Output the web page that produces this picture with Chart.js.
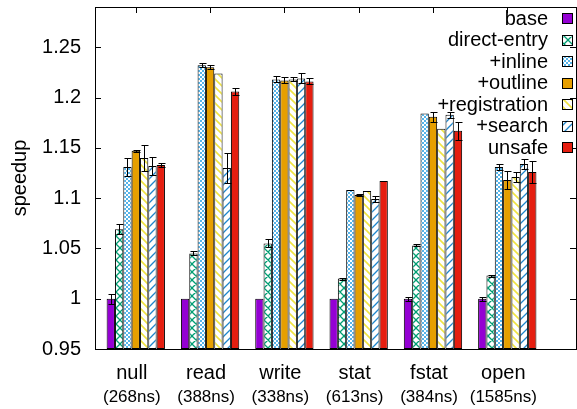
<!DOCTYPE html>
<html>
<head>
<meta charset="utf-8">
<script src="https://cdn.jsdelivr.net/npm/chart.js@4.4.1/dist/chart.umd.min.js"></script>
<style>
    html, body { margin: 0; padding: 0; background: #fff; }
    #wrap { width: 577px; height: 409px; }
</style>
</head>
<body>
<div id="wrap"><canvas id="speedup-chart"></canvas></div>
<script>
'use strict';

// groups on the x axis
const categories = ['null', 'read', 'write', 'stat', 'fstat', 'open'];
const baseTimes = ['(268ns)', '(388ns)', '(338ns)', '(613ns)', '(384ns)', '(1585ns)'];

const seriesNames = ['base', 'direct-entry', '+inline', '+outline', '+registration', '+search', 'unsafe'];

// speedup per group
const base = [1.000, 1.000, 1.000, 1.000, 1.000, 1.000];
const directEntry = [1.069, 1.045, 1.055, 1.020, 1.053, 1.023];
const inline = [1.131, 1.232, 1.218, 1.108, 1.184, 1.131];
const outline = [1.147, 1.230, 1.217, 1.103, 1.181, 1.118];
const registration = [1.140, 1.224, 1.218, 1.107, 1.169, 1.121];
const search = [1.132, 1.130, 1.219, 1.099, 1.183, 1.134];
const unsafe = [1.133, 1.206, 1.216, 1.117, 1.167, 1.126];

// error bar half widths
const baseErr = [0.005, 0.000, 0.000, 0.000, 0.002, 0.002];
const directEntryErr = [0.005, 0.002, 0.004, 0.001, 0.001, 0.001];
const inlineErr = [0.009, 0.002, 0.003, 0.000, 0.000, 0.003];
const outlineErr = [0.001, 0.002, 0.003, 0.001, 0.005, 0.009];
const registrationErr = [0.013, 0.000, 0.002, 0.000, 0.000, 0.005];
const searchErr = [0.009, 0.015, 0.005, 0.003, 0.003, 0.005];
const unsafeErr = [0.002, 0.003, 0.003, 0.000, 0.009, 0.011];

const yTicks = [0.95, 1.0, 1.05, 1.1, 1.15, 1.2, 1.25];


/** @description Small repeating tile used as a bar fill */
function makePattern(color, kind, size, width) {
    let c = document.createElement('canvas');
    c.width = size;
    c.height = size;
    let g = c.getContext('2d');
    g.fillStyle = '#fff';
    g.fillRect(0, 0, size, size);
    g.strokeStyle = color;
    g.lineWidth = width || 1;
    g.beginPath();
    if (kind === 'cross' || kind === 'back') {
        g.moveTo(0, 0);
        g.lineTo(size, size);
        g.moveTo(-1, size - 1);
        g.lineTo(1, size + 1);
        g.moveTo(size - 1, -1);
        g.lineTo(size + 1, 1);
    }
    if (kind === 'cross' || kind === 'fwd') {
        g.moveTo(0, size);
        g.lineTo(size, 0);
        g.moveTo(-1, 1);
        g.lineTo(1, -1);
        g.moveTo(size - 1, size + 1);
        g.lineTo(size + 1, size - 1);
    }
    g.stroke();
    if (kind === 'checker') {
        g.fillStyle = color;
        let h = size / 2;
        g.fillRect(0, 0, h, h);
        g.fillRect(h, h, h, h);
    }
    return g.createPattern(c, 'repeat');
}


const fills = [
    '#9400d3',
    makePattern('#009e73', 'cross', 8, 1.3),
    makePattern('#56b4e9', 'checker', 4),
    '#e69f00',
    makePattern('#f0e442', 'back', 8, 1.6),
    makePattern('#1f86cc', 'fwd', 8, 1.3),
    '#e51e10'
];

const values = [base, directEntry, inline, outline, registration, search, unsafe];
const errors = [baseErr, directEntryErr, inlineErr, outlineErr, registrationErr, searchErr, unsafeErr];


// error bars on top of every bar
const errorBarPlugin = {
    id: 'errorBars',
    afterDatasetsDraw(chart) {
        const ctx = chart.ctx;
        const y = chart.scales.y;
        ctx.save();
        ctx.strokeStyle = '#000';
        ctx.lineWidth = 1;
        chart.data.datasets.forEach((ds, i) => {
            const meta = chart.getDatasetMeta(i);
            meta.data.forEach((bar, j) => {
                const err = errors[i][j];
                if (!err)
                    return;
                const v = values[i][j];
                const top = Math.round(y.getPixelForValue(v + err)) + 0.5;
                const bot = Math.round(y.getPixelForValue(v - err)) + 0.5;
                const x = Math.round(bar.x) + 0.5;
                ctx.beginPath();
                ctx.moveTo(x, top);
                ctx.lineTo(x, bot);
                ctx.moveTo(x - 3, top);
                ctx.lineTo(x + 4, top);
                ctx.moveTo(x - 3, bot);
                ctx.lineTo(x + 4, bot);
                ctx.stroke();
            });
        });
        ctx.restore();
    }
};

// gnuplot style frame with inward ticks
const framePlugin = {
    id: 'frame',
    beforeDatasetsDraw(chart) {
        const ctx = chart.ctx;
        const a = chart.chartArea;
        ctx.save();
        ctx.strokeStyle = '#000';
        ctx.lineWidth = 1;
        ctx.beginPath();
        for (const v of yTicks) {
            const py = Math.round(chart.scales.y.getPixelForValue(v)) + 0.5;
            ctx.moveTo(a.left, py);
            ctx.lineTo(a.left + 6, py);
            ctx.moveTo(a.right, py);
            ctx.lineTo(a.right - 6, py);
        }
        categories.forEach((c, i) => {
            const px = Math.round(chart.scales.x.getPixelForValue(i)) + 0.5;
            ctx.moveTo(px, a.top);
            ctx.lineTo(px, a.top + 6);
            ctx.moveTo(px, a.bottom);
            ctx.lineTo(px, a.bottom - 6);
        });
        ctx.stroke();
        ctx.restore();
    },
    afterDraw(chart) {
        const ctx = chart.ctx;
        const a = chart.chartArea;
        ctx.save();
        ctx.strokeStyle = '#000';
        ctx.lineWidth = 1;
        ctx.strokeRect(Math.round(a.left) + 0.5, Math.round(a.top) + 0.5,
            Math.round(a.right - a.left), Math.round(a.bottom - a.top));
        ctx.restore();
    }
};

// key in the top right corner: text right aligned, sample box after it
const keyPlugin = {
    id: 'key',
    afterDatasetsDraw(chart) {
        const ctx = chart.ctx;
        const a = chart.chartArea;
        const boxRight = a.right - 4;
        const rowH = 21.5;
        ctx.save();
        ctx.font = '20px "Liberation Sans", Arial, sans-serif';
        ctx.textAlign = 'right';
        ctx.textBaseline = 'middle';
        chart.data.datasets.forEach((ds, i) => {
            const cy = a.top + 11 + i * rowH;
            ctx.fillStyle = '#000';
            ctx.fillText(ds.label, boxRight - 24, cy + 1);
            const bx = Math.round(boxRight - 10) + 0.5;
            const by = Math.round(cy - 5) + 0.5;
            ctx.fillStyle = ds.backgroundColor;
            ctx.fillRect(bx, by, 10, 10);
            ctx.strokeStyle = '#000';
            ctx.strokeRect(bx, by, 10, 10);
        });
        ctx.restore();
    }
};

// fixed axis sizes, no extra label padding around the plot
function fixSize(size) {
    return (s) => {
        if (s.isHorizontal())
            s.height = size;
        else
            s.width = size;
        s.paddingLeft = 0;
        s.paddingRight = 0;
        s.paddingTop = 0;
        s.paddingBottom = 0;
    };
}

// one tick per group
function groupTicks(s) {
    s.ticks = categories.map((c, i) => ({ value: i }));
}

// same range for both bottom axes
const xMin = -0.549;
const xMax = 5.925;


function drawChart() {
    Chart.defaults.font.family = '"Liberation Sans", Arial, sans-serif';
    Chart.defaults.color = '#000';

    let datasets = seriesNames.map((name, i) => ({
        label: name,
        data: values[i].map((v, j) => ({ x: j, y: v })),
        backgroundColor: fills[i],
        borderColor: '#000',
        borderWidth: 1,
        borderSkipped: false,
        base: 0.95,
        categoryPercentage: 0.785,
        barPercentage: 1.0
    }));

    let ctx = document.getElementById('speedup-chart').getContext('2d');

    new Chart(ctx, {
        type: 'bar',
        data: { datasets: datasets },
        options: {
            responsive: true,
            maintainAspectRatio: false,
            animation: false,
            layout: { padding: { top: 7, right: 1, left: 0, bottom: 0 } },
            plugins: {
                legend: { display: false },
                tooltip: { enabled: false }
            },
            scales: {
                x: {
                    type: 'linear',
                    min: xMin,
                    max: xMax,
                    bounds: 'data',
                    offset: false,
                    grid: { display: false, drawTicks: false, offset: false },
                    border: { display: false },
                    afterBuildTicks: groupTicks,
                    afterFit: fixSize(36),
                    ticks: {
                        autoSkip: false,
                        maxRotation: 0,
                        padding: 12,
                        labelOffset: -4,
                        font: { size: 20 },
                        callback: (v) => categories[v] !== undefined ? categories[v] : ''
                    }
                },
                x2: {
                    type: 'linear',
                    position: 'bottom',
                    min: xMin,
                    max: xMax,
                    bounds: 'data',
                    offset: false,
                    grid: { display: false, drawTicks: false, offset: false },
                    border: { display: false },
                    afterBuildTicks: groupTicks,
                    afterFit: fixSize(24),
                    ticks: {
                        autoSkip: false,
                        maxRotation: 0,
                        padding: 2,
                        labelOffset: -4,
                        font: { size: 17 },
                        callback: (v) => baseTimes[v] !== undefined ? baseTimes[v] : ''
                    }
                },
                y: {
                    min: 0.95,
                    max: 1.29,
                    grid: { display: false, drawTicks: false },
                    border: { display: false },
                    afterFit: fixSize(95),
                    title: {
                        display: true,
                        text: 'speedup',
                        font: { size: 20 },
                        padding: { top: 8, bottom: 0 }
                    },
                    ticks: {
                        stepSize: 0.05,
                        includeBounds: false,
                        padding: 14,
                        font: { size: 20 },
                        callback: (v) => String(+v.toFixed(2))
                    }
                }
            }
        },
        plugins: [framePlugin, errorBarPlugin, keyPlugin]
    });
}

drawChart();
</script>
</body>
</html>
